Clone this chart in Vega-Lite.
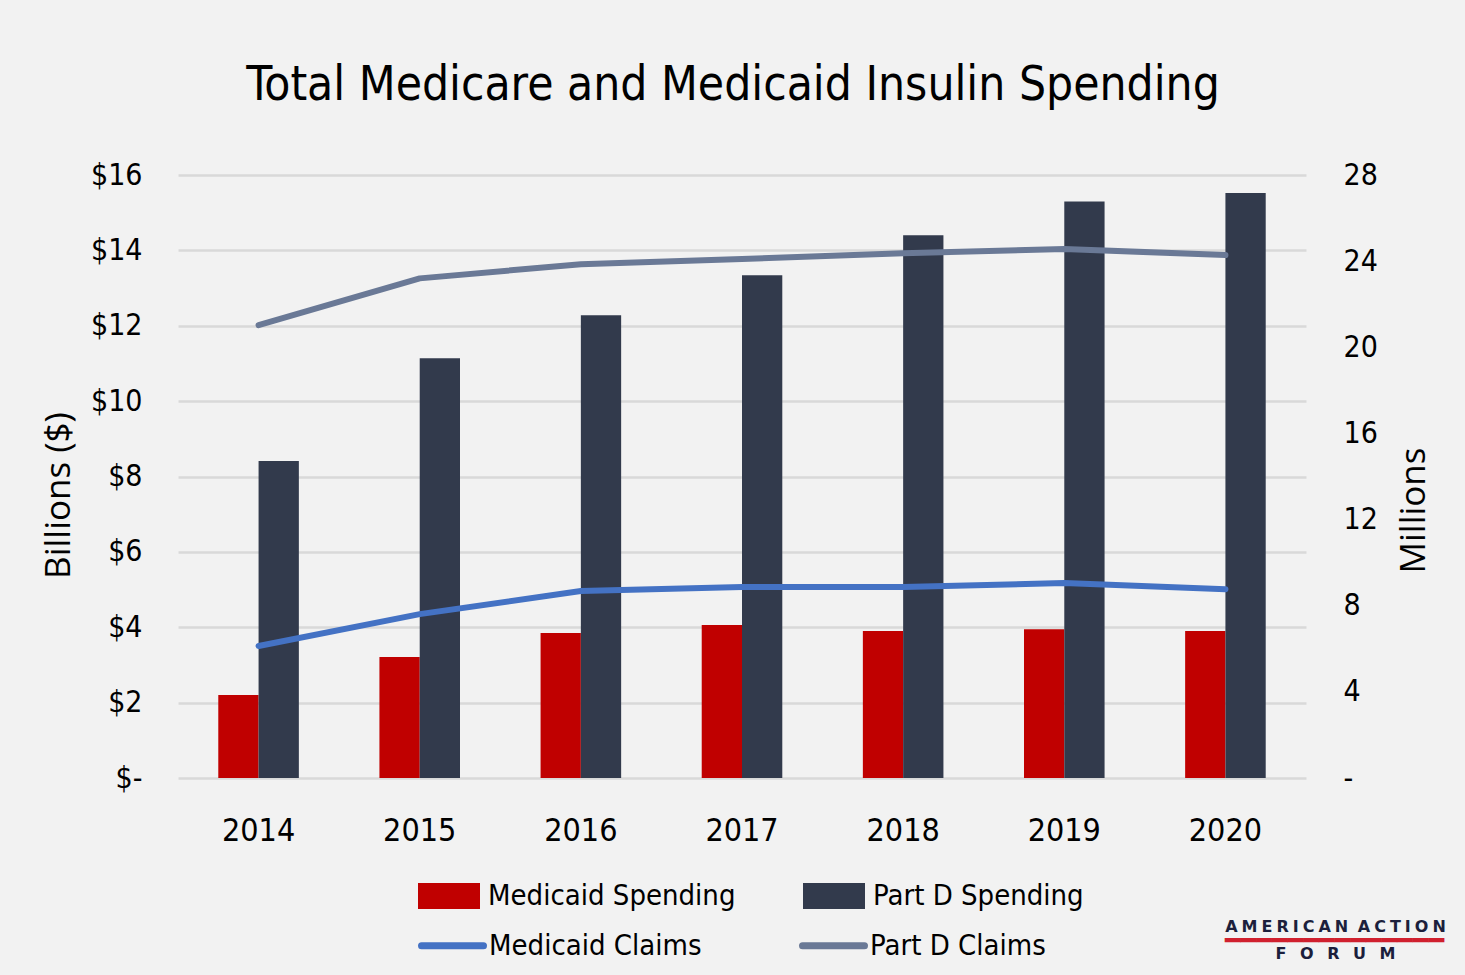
{
  "$schema": "https://vega.github.io/schema/vega-lite/v6.json",
  "width": 1128,
  "height": 603,
  "autosize": {"type": "none"},
  "padding": {"left": 178, "top": 175, "right": 159, "bottom": 197},
  "background": "#f2f2f2",
  "config": {"view": {"stroke": null}, "font": "DejaVu Sans Condensed, Roboto, sans-serif"},
  "title": {
    "text": "Total Medicare and Medicaid Insulin Spending",
    "font": "DejaVu Sans Condensed, Roboto, sans-serif",
    "fontSize": 47.5,
    "fontWeight": "normal",
    "color": "#000000",
    "anchor": "middle",
    "offset": 51,
    "dx": -9
  },
  "data": {
    "values": [
      {"year": "2014", "series": "Medicaid Spending", "kind": "spending", "value": 2.2},
      {"year": "2015", "series": "Medicaid Spending", "kind": "spending", "value": 3.21},
      {"year": "2016", "series": "Medicaid Spending", "kind": "spending", "value": 3.85},
      {"year": "2017", "series": "Medicaid Spending", "kind": "spending", "value": 4.06},
      {"year": "2018", "series": "Medicaid Spending", "kind": "spending", "value": 3.9},
      {"year": "2019", "series": "Medicaid Spending", "kind": "spending", "value": 3.95},
      {"year": "2020", "series": "Medicaid Spending", "kind": "spending", "value": 3.9},
      {"year": "2014", "series": "Part D Spending", "kind": "spending", "value": 8.41},
      {"year": "2015", "series": "Part D Spending", "kind": "spending", "value": 11.14},
      {"year": "2016", "series": "Part D Spending", "kind": "spending", "value": 12.28},
      {"year": "2017", "series": "Part D Spending", "kind": "spending", "value": 13.34},
      {"year": "2018", "series": "Part D Spending", "kind": "spending", "value": 14.4},
      {"year": "2019", "series": "Part D Spending", "kind": "spending", "value": 15.3},
      {"year": "2020", "series": "Part D Spending", "kind": "spending", "value": 15.52},
      {"year": "2014", "series": "Medicaid Claims", "kind": "claims", "value": 6.13},
      {"year": "2015", "series": "Medicaid Claims", "kind": "claims", "value": 7.61},
      {"year": "2016", "series": "Medicaid Claims", "kind": "claims", "value": 8.68},
      {"year": "2017", "series": "Medicaid Claims", "kind": "claims", "value": 8.87},
      {"year": "2018", "series": "Medicaid Claims", "kind": "claims", "value": 8.87},
      {"year": "2019", "series": "Medicaid Claims", "kind": "claims", "value": 9.05},
      {"year": "2020", "series": "Medicaid Claims", "kind": "claims", "value": 8.77},
      {"year": "2014", "series": "Part D Claims", "kind": "claims", "value": 21.03},
      {"year": "2015", "series": "Part D Claims", "kind": "claims", "value": 23.2},
      {"year": "2016", "series": "Part D Claims", "kind": "claims", "value": 23.86},
      {"year": "2017", "series": "Part D Claims", "kind": "claims", "value": 24.1},
      {"year": "2018", "series": "Part D Claims", "kind": "claims", "value": 24.37},
      {"year": "2019", "series": "Part D Claims", "kind": "claims", "value": 24.56},
      {"year": "2020", "series": "Part D Claims", "kind": "claims", "value": 24.28}
    ]
  },
  "layer": [
    {
      "transform": [{"filter": "datum.kind === 'spending'"}],
      "mark": {"type": "bar"},
      "encoding": {
        "x": {
          "field": "year",
          "type": "nominal",
          "scale": {"paddingInner": 0.5, "paddingOuter": 0.25},
          "axis": {
            "orient": "bottom",
            "labelAngle": 0,
            "labelFontSize": 32,
            "labelColor": "#000000",
            "labelPadding": 37,
            "domain": false,
            "ticks": false,
            "grid": false,
            "title": ["A\u2005M\u2005E\u2005R\u2005I\u2005C\u2005A\u2005N\u2005 A\u2005C\u2005T\u2005I\u2005O\u2005N", "F     \u2005\u2005O     \u2005\u2005R     \u2005\u2005U     \u2005\u2005M"],
            "titleFont": "DejaVu Sans",
            "titleFontSize": 16,
            "titleFontWeight": "bold",
            "titleColor": "#1c1f3c",
            "titleLineHeight": 27,
            "titleAlign": "center",
            "titleBaseline": "top",
            "titleAngle": 0,
            "titleX": 1157,
            "titleY": 140
          }
        },
        "xOffset": {"field": "series", "type": "nominal", "sort": ["Medicaid Spending", "Part D Spending"]},
        "y": {
          "field": "value",
          "type": "quantitative",
          "scale": {"domain": [0, 16]},
          "axis": {
            "values": [0, 2, 4, 6, 8, 10, 12, 14, 16],
            "labelExpr": "datum.value === 0 ? '$-' : '$' + datum.value",
            "labelFontSize": 30,
            "labelColor": "#000000",
            "labelPadding": 36,
            "domain": false,
            "ticks": false,
            "grid": true,
            "gridColor": "#d9d9d9",
            "gridWidth": 2.5,
            "title": "Billions ($)",
            "titleFont": "Open Sans",
            "titleFontSize": 35,
            "titleFontWeight": "normal",
            "titleColor": "#000000",
            "titleAngle": 270,
            "titleBaseline": "middle",
            "titleX": -120,
            "titleY": 320
          }
        },
        "fill": {
          "field": "series",
          "type": "nominal",
          "scale": {
            "domain": ["Medicaid Spending", "Part D Spending"],
            "range": ["#c00000", "#323a4c"]
          },
          "legend": {
            "orient": "none",
            "legendX": 240,
            "legendY": 690,
            "direction": "horizontal",
            "title": null,
            "symbolType": "M-1,-0.42L1,-0.42L1,0.42L-1,0.42Z",
            "symbolSize": 3844,
            "symbolStrokeWidth": 0,
            "symbolOpacity": 1,
            "labelFontSize": 29,
            "labelColor": "#000000",
            "labelLimit": 400,
            "labelOffset": 8,
            "columnPadding": 67,
            "padding": 0
          }
        }
      }
    },
    {
      "transform": [{"filter": "datum.kind === 'claims'"}],
      "mark": {"type": "line", "strokeWidth": 6, "strokeCap": "round", "strokeJoin": "round"},
      "encoding": {
        "x": {
          "field": "year",
          "type": "nominal",
          "scale": {"padding": 0.5},
          "axis": {
            "orient": "bottom",
            "labels": false,
            "domain": false,
            "ticks": false,
            "grid": false,
            "title": "━━━━━━━━━━━━━━",
            "titleFont": "DejaVu Sans",
            "titleFontSize": 26,
            "titleFontWeight": "bold",
            "titleColor": "#d0202e",
            "titleAlign": "center",
            "titleBaseline": "middle",
            "titleAngle": 0,
            "titleX": 1156,
            "titleY": 162
          }
        },
        "y": {
          "field": "value",
          "type": "quantitative",
          "scale": {"domain": [0, 28]},
          "axis": {
            "orient": "right",
            "values": [0, 4, 8, 12, 16, 20, 24, 28],
            "labelExpr": "datum.value === 0 ? '-' : '' + datum.value",
            "labelFontSize": 30,
            "labelColor": "#000000",
            "labelPadding": 37,
            "domain": false,
            "ticks": false,
            "grid": false,
            "title": "Millions",
            "titleFont": "Open Sans",
            "titleFontSize": 35,
            "titleFontWeight": "normal",
            "titleColor": "#000000",
            "titleAngle": 270,
            "titleBaseline": "middle",
            "titleX": 107,
            "titleY": 335
          }
        },
        "stroke": {
          "field": "series",
          "type": "nominal",
          "scale": {
            "domain": ["Medicaid Claims", "Part D Claims"],
            "range": ["#4472c4", "#6a7996"]
          },
          "legend": {
            "orient": "none",
            "legendX": 240,
            "legendY": 736,
            "direction": "horizontal",
            "title": null,
            "symbolType": "stroke",
            "symbolSize": 3844,
            "symbolStrokeWidth": 7,
            "symbolOpacity": 1,
            "labelFontSize": 29,
            "labelColor": "#000000",
            "labelLimit": 400,
            "labelOffset": 2,
            "columnPadding": 86,
            "padding": 0,
            "encode": {"symbols": {"update": {"strokeCap": {"value": "round"}}}}
          }
        }
      }
    }
  ],
  "resolve": {
    "scale": {"x": "independent", "y": "independent"},
    "axis": {"x": "independent", "y": "independent"}
  }
}
